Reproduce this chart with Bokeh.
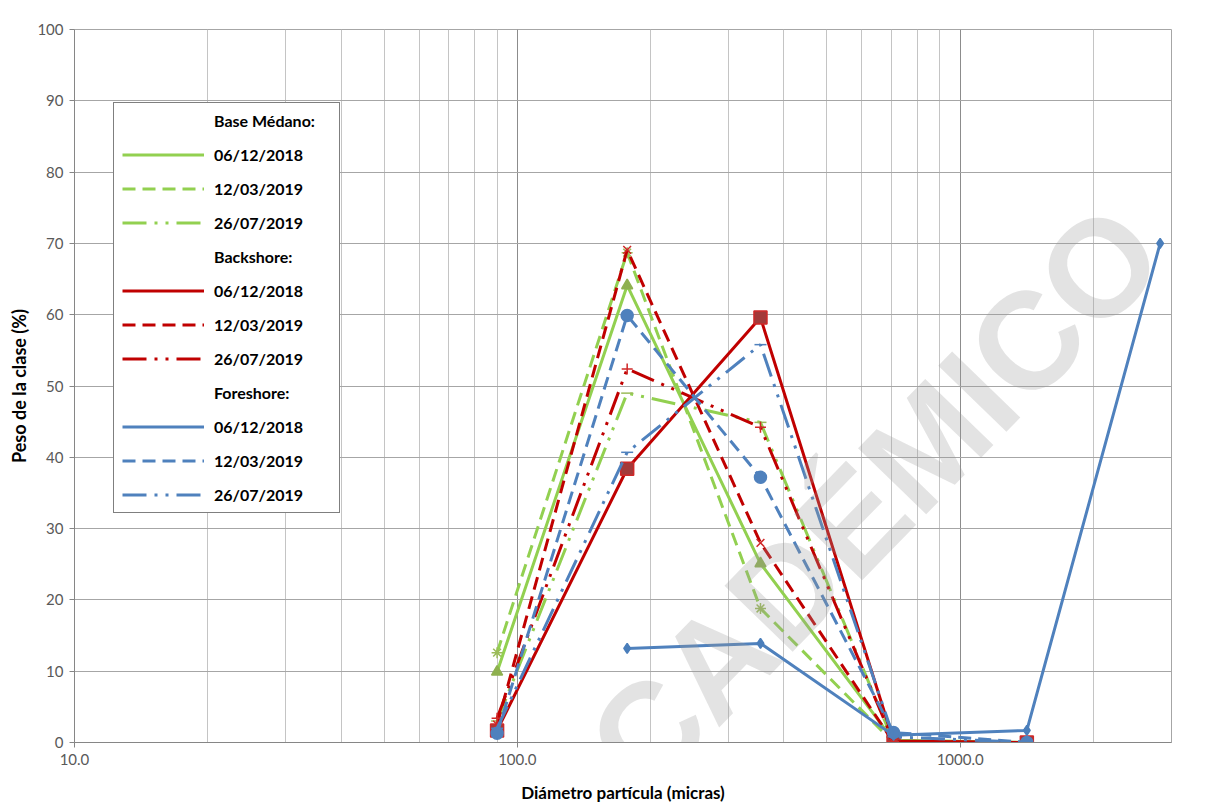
from bokeh.plotting import figure
from bokeh.models import FixedTicker, PrintfTickFormatter, Legend, LegendItem, Label
from bokeh.embed import file_html
from bokeh.resources import INLINE

nan = float("nan")

# Particle diameter classes (micras)
diametro = [90, 177, 354, 707, 1414, 2828]

# Peso de la clase (%)
bm_06_12_2018 = [9.9, 64.1, 25.1, 0.3, 0.0, nan]
bm_12_03_2019 = [12.6, 68.7, 18.8, 0.0, 0.0, nan]
bm_26_07_2019 = [3.0, 49.0, 44.9, 0.1, 0.0, nan]
bs_06_12_2018 = [1.7, 38.4, 59.6, 0.2, 0.0, nan]
bs_12_03_2019 = [2.5, 69.1, 28.0, 0.0, 0.0, nan]
bs_26_07_2019 = [3.4, 52.4, 44.2, 0.1, 0.0, nan]
fs_06_12_2018 = [nan, 13.2, 13.9, 1.0, 1.7, 70.0]
fs_12_03_2019 = [1.3, 59.9, 37.2, 1.4, 0.0, nan]
fs_26_07_2019 = [2.0, 40.7, 55.8, 0.8, 0.0, nan]

groups = ["Base Médano:", "Backshore:", "Foreshore:"]
dates = ["06/12/2018", "12/03/2019", "26/07/2019"]
x_ticks = [10, 100, 1000]
x_minor = [20, 30, 40, 50, 60, 70, 80, 90, 200, 300, 400, 500, 600, 700, 800, 900, 2000, 3000]
y_ticks = list(range(0, 101, 10))

GREEN = "#92D050"
RED = "#C00000"
BLUE = "#4F81BD"
DASH = "13 7"
DASHDOT = "24 8 3 8 3 8"

p = figure(width=1206, height=805, x_axis_type="log", x_range=(10, 3000), y_range=(0, 100),
           output_backend="svg", toolbar_location=None,
           min_border_left=74, min_border_right=35, min_border_top=29, min_border_bottom=63)
p.background_fill_color = "white"
p.border_fill_color = "white"
p.outline_line_color = "#A6A6A6"
p.outline_line_width = 1

p.xaxis.ticker = FixedTicker(ticks=x_ticks, minor_ticks=x_minor)
p.xaxis.formatter = PrintfTickFormatter(format="%.1f")
p.yaxis.ticker = FixedTicker(ticks=y_ticks)

p.xgrid.grid_line_color = "#8C8C8C"
p.xgrid.minor_grid_line_color = "#C4C4C4"
p.ygrid.grid_line_color = "#A6A6A6"

for ax in (p.xaxis[0], p.yaxis[0]):
    ax.axis_line_color = "#868686"
    ax.major_tick_line_color = "#868686"
    ax.major_tick_out = 5
    ax.major_tick_in = 0
    ax.minor_tick_out = 0
    ax.minor_tick_in = 0
    ax.major_label_text_font = "Lato"
    ax.major_label_text_font_size = "15px"
    ax.major_label_text_color = "#595959"
    ax.major_label_standoff = 6
    ax.axis_label_text_font = "Lato"
    ax.axis_label_text_font_style = "bold"
    ax.axis_label_text_color = "black"

p.xaxis.axis_label = "Diámetro partícula (micras)"
p.xaxis.axis_label_text_font_size = "17px"
p.xaxis.axis_label_standoff = 14
p.yaxis.axis_label = "Peso de la clase (%)"
p.yaxis.axis_label_text_font_size = "18px"
p.yaxis.axis_label_standoff = 4

series = [
    (bm_06_12_2018, GREEN, "solid", "triangle", "#8EB04F", "#8EB04F", 11),
    (bm_12_03_2019, GREEN, DASH, "asterisk", "#9BBB59", "#9BBB59", 11),
    (bm_26_07_2019, GREEN, DASHDOT, "dash", "#9BBB59", "#9BBB59", 12),
    (bs_06_12_2018, RED, "solid", "square", "#A33A3A", "#D02828", 13),
    (bs_12_03_2019, RED, DASH, "x", "#D02828", "#D02828", 11),
    (bs_26_07_2019, RED, DASHDOT, "cross", "#D02828", "#D02828", 11),
    (fs_06_12_2018, BLUE, "solid", "diamond", "#4A7EBB", "#4A7EBB", 10),
    (fs_12_03_2019, BLUE, DASH, "circle", "#4F81BD", "#4F81BD", 12),
    (fs_26_07_2019, BLUE, DASHDOT, "dash", "#4F81BD", "#4F81BD", 12),
]

line_renderers = []
for vals, col, dash, marker, mfill, mline, msize in series:
    r = p.line(diametro, vals, line_color=col, line_width=3, line_dash=dash)
    line_renderers.append(r)
    p.scatter(diametro, vals, marker=marker, size=msize, fill_color=mfill,
              line_color=mline, line_width=1.5)

items = []
for gi, g in enumerate(groups):
    hdr = p.line(x=[], y=[], line_alpha=0)
    items.append(LegendItem(label=g, renderers=[hdr]))
    for di, d in enumerate(dates):
        items.append(LegendItem(label=d, renderers=[line_renderers[gi * 3 + di]]))

legend = Legend(items=items, location=(39, 229))
legend.label_text_font = "Lato"
legend.label_text_font_style = "bold"
legend.label_text_font_size = "16px"
legend.label_text_color = "black"
legend.glyph_width = 82
legend.glyph_height = 19
legend.label_height = 19
legend.label_width = 117
legend.label_standoff = 10
legend.spacing = 15
legend.padding = 8
legend.margin = 0
legend.border_line_color = "black"
legend.border_line_width = 1.5
legend.background_fill_color = "white"
legend.background_fill_alpha = 1
p.add_layout(legend)

wm = Label(x=2500, y=72.0, text="ACADÉMICO", angle=0.80, text_align="right",
           text_baseline="middle", text_font="Liberation Sans", text_font_style="bold",
           text_font_size="138px", text_color="#9A9A9A", text_alpha=0.28, level="overlay")
p.add_layout(wm)

open("out.html", "w").write(file_html(p, INLINE))
